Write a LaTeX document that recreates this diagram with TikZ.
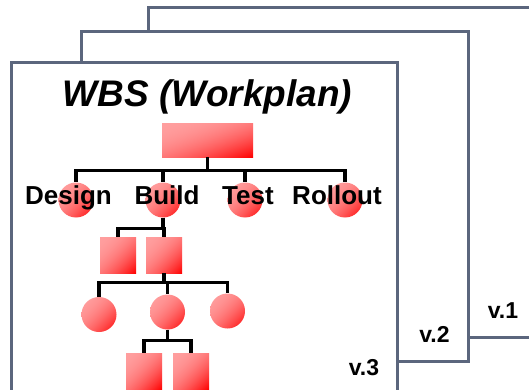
\documentclass[tikz,border=0pt]{standalone}
\usepackage{fontspec}
\setmainfont{Liberation Sans}
\definecolor{framecol}{RGB}{91,102,125}
\pgfdeclarefunctionalshading{wbsred}{\pgfpoint{0bp}{0bp}}{\pgfpoint{100bp}{100bp}}{}{
  75 exch sub exch 25 sub add 100 div
  dup 0 lt {pop 0} if
  dup 1 gt {pop 1} if
  dup mul 1 exch sub 0.62 mul
  1 exch dup
}
\tikzset{
  frame/.style={draw=framecol, line width=3pt, fill=white},
  redshade/.style={draw=none, shade, shading=wbsred},
  boxnode/.style={redshade, rectangle, inner sep=0pt},
  ballnode/.style={redshade, circle, inner sep=0pt, minimum size=35pt},
  sqnode/.style={boxnode, minimum width=36pt, minimum height=36pt},
  link/.style={draw=black, line width=3.4pt},
  phase/.style={font=\fontsize{26}{28}\selectfont\bfseries, anchor=base, inner sep=0pt},
  verlab/.style={font=\fontsize{23}{26}\selectfont\bfseries, anchor=base, inner sep=0pt},
}
\begin{document}
\begin{tikzpicture}[x=1pt,y=-1pt]
\useasboundingbox (0,0) rectangle (529,390);
\clip (0,0) rectangle (529,390);
% stacked version sheets
\draw[frame] (148,8) rectangle (570,337);
\draw[frame] (81,32) rectangle (468,361);
\draw[frame] (11,63) rectangle (397,430);
% title
\node[font=\fontsize{37}{40}\selectfont\bfseries\itshape, anchor=base, inner sep=0pt] (title) at (207.5,107) {WBS (Workplan)};
% level 1
\node[boxnode, minimum width=91pt, minimum height=33pt] (root) at (207.5,140.5) {};
% level 2
\node[ballnode] (design) at (76,200) {};
\node[ballnode] (build) at (163,200) {};
\node[ballnode] (test) at (245,200) {};
\node[ballnode] (rollout) at (345,200) {};
% level 3
\node[sqnode] (b1) at (118,255) {};
\node[sqnode] (b2) at (164,255) {};
% level 4
\node[ballnode] (c1) at (99,314.5) {};
\node[ballnode] (c2) at (167.5,312) {};
\node[ballnode] (c3) at (227.5,311) {};
% level 5
\node[sqnode] (d1) at (144,371) {};
\node[sqnode] (d2) at (191,371) {};
% connectors
\foreach \ch in {design,build,test,rollout}
  \draw[link] (root.south) -- ++(0,13) -| (\ch.north);
\foreach \ch in {b1,b2}
  \draw[link] (build.south) -- ++(0,11) -| (\ch.north);
\foreach \ch in {c1,c2,c3}
  \draw[link] (b2.south) -- ++(0,9) -| (\ch.north);
\foreach \ch in {d1,d2}
  \draw[link] (c2.south) -- ++(0,11) -| (\ch.north);
% phase labels
\node[phase] (dlab) at (68.5,204) {Design};
\node[phase] (blab) at (167,204) {Build};
\node[phase] (tlab) at (248,204) {Test};
\node[phase] (rlab) at (337,204) {Rollout};
% version labels
\node[verlab] (v1) at (503,318) {v.1};
\node[verlab] (v2) at (434.5,342) {v.2};
\node[verlab] (v3) at (364,375) {v.3};
\end{tikzpicture}
\end{document}
